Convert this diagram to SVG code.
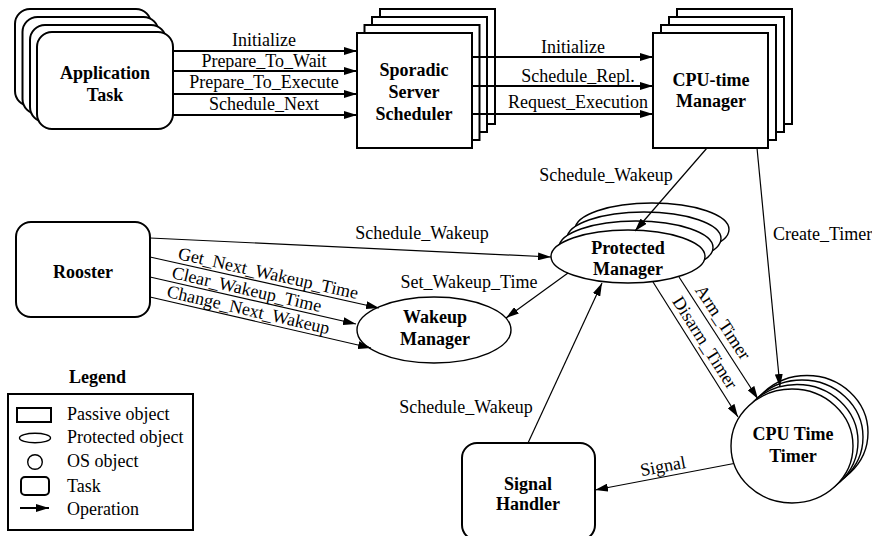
<svg xmlns="http://www.w3.org/2000/svg" width="872" height="536" viewBox="0 0 872 536">
<style>
.box{fill:#fff;stroke:#000;stroke-width:2}
.ell{fill:#fff;stroke:#000;stroke-width:1.4}
.t{font-family:'Liberation Serif','Times New Roman',serif;font-size:18px;fill:#000}
.n{font-weight:bold;text-anchor:middle}
.m{text-anchor:middle}
.c2{fill:none;stroke:#000;stroke-width:2;marker-end:url(#ah)}
.c1{fill:none;stroke:#000;stroke-width:1.2;marker-end:url(#ah)}
</style>
<defs>
<marker id="ah" viewBox="0 0 13 8" refX="13" refY="4" markerWidth="13" markerHeight="8" markerUnits="userSpaceOnUse" orient="auto">
<path d="M0,0 L13,4 L0,8 z" fill="#000"/>
</marker>
</defs>
<rect width="872" height="536" fill="#fff"/>

<g id="application-task">
<rect class="box" x="15" y="9" width="136" height="97" rx="15"/>
<rect class="box" x="22.5" y="17" width="136" height="97" rx="15"/>
<rect class="box" x="30" y="25" width="136" height="97" rx="15"/>
<rect class="box" x="37" y="32" width="136" height="97" rx="15"/>
<text class="t n" x="105" y="79">Application</text>
<text class="t n" x="105" y="101">Task</text>
</g>

<g id="sporadic-server-scheduler">
<rect class="box" x="380" y="9" width="115" height="115"/>
<rect class="box" x="372" y="17" width="115" height="115"/>
<rect class="box" x="364.5" y="25" width="115" height="115"/>
<rect class="box" x="357" y="33" width="115" height="115"/>
<text class="t n" x="414" y="76">Sporadic</text>
<text class="t n" x="414" y="98">Server</text>
<text class="t n" x="414" y="120">Scheduler</text>
</g>

<g id="cpu-time-manager">
<rect class="box" x="677" y="9" width="115" height="115"/>
<rect class="box" x="669" y="17" width="115" height="115"/>
<rect class="box" x="661" y="25" width="115" height="115"/>
<rect class="box" x="653" y="33" width="115" height="115"/>
<text class="t n" x="711" y="86">CPU-time</text>
<text class="t n" x="711" y="107">Manager</text>
</g>

<g id="protected-manager">
<ellipse class="ell" cx="652" cy="229.5" rx="77" ry="26.5"/>
<ellipse class="ell" cx="644" cy="238.5" rx="77" ry="26.5"/>
<ellipse class="ell" cx="636" cy="247.5" rx="77" ry="26.5"/>
<ellipse class="ell" cx="628" cy="256.5" rx="77" ry="26.5"/>
<text class="t n" x="628" y="254">Protected</text>
<text class="t n" x="628" y="275">Manager</text>
</g>

<g id="rooster">
<rect class="box" x="16" y="222" width="134" height="95" rx="15"/>
<text class="t n" x="83" y="278">Rooster</text>
</g>

<g id="wakeup-manager">
<ellipse class="ell" cx="434" cy="330" rx="77" ry="33"/>
<text class="t n" x="435" y="323">Wakeup</text>
<text class="t n" x="435" y="345">Manager</text>
</g>

<g id="cpu-time-timer">
<ellipse class="ell" cx="807" cy="432.5" rx="61" ry="57"/>
<ellipse class="ell" cx="802" cy="437" rx="61" ry="57"/>
<ellipse class="ell" cx="797" cy="441.5" rx="61" ry="57"/>
<ellipse class="ell" cx="792" cy="446" rx="61" ry="57"/>
<text class="t n" x="793" y="440">CPU Time</text>
<text class="t n" x="793" y="462">Timer</text>
</g>

<g id="signal-handler">
<rect class="box" x="462" y="443" width="133" height="97" rx="15"/>
<text class="t n" x="528" y="490">Signal</text>
<text class="t n" x="528" y="510">Handler</text>
</g>

<g id="connectors">
<path class="c2" d="M173,51 H357"/>
<path class="c2" d="M173,71 H357"/>
<path class="c2" d="M173,94 H357"/>
<path class="c2" d="M173,115 H357"/>
<path class="c2" d="M472,57 H653"/>
<path class="c2" d="M472,86 H653"/>
<path class="c2" d="M472,114 H653"/>
<path class="c1" d="M707,148 L635,231"/>
<path class="c1" d="M757,148 L780,387"/>
<path class="c1" d="M150,238 L551,257"/>
<path class="c1" d="M150,257 L379,308"/>
<path class="c1" d="M150,277 L356,324"/>
<path class="c1" d="M150,297 L371,348"/>
<path class="c1" d="M568,273 L506,318"/>
<path class="c1" d="M528,443 L602,283"/>
<path class="c1" d="M653,282 L738,417"/>
<path class="c1" d="M679,277 L758,399"/>
<path class="c1" d="M734,463.5 L595,490"/>
</g>

<g id="connector-labels">
<text class="t m" x="264" y="46">Initialize</text>
<text class="t m" x="264" y="67">Prepare_To_Wait</text>
<text class="t m" x="264" y="88">Prepare_To_Execute</text>
<text class="t m" x="264" y="110">Schedule_Next</text>
<text class="t m" x="573" y="53">Initialize</text>
<text class="t m" x="578" y="82">Schedule_Repl.</text>
<text class="t m" x="578" y="108">Request_Execution</text>
<text class="t m" x="606" y="181">Schedule_Wakeup</text>
<text class="t" x="773" y="240">Create_Timer</text>
<text class="t m" x="422" y="239">Schedule_Wakeup</text>
<text class="t m" transform="translate(267,279) rotate(12.6)">Get_Next_Wakeup_Time</text>
<text class="t m" transform="translate(245.5,295) rotate(12.9)">Clear_Wakeup_Time</text>
<text class="t m" transform="translate(247,315.5) rotate(13)">Change_Next_Wakeup</text>
<text class="t m" x="469" y="288">Set_Wakeup_Time</text>
<text class="t m" transform="translate(718,325.5) rotate(56.6)">Arm_Timer</text>
<text class="t m" transform="translate(700,345.8) rotate(57.6)">Disarm_Timer</text>
<text class="t m" x="466" y="413">Schedule_Wakeup</text>
<text class="t m" transform="translate(664,472) rotate(-10.8)">Signal</text>
</g>

<g id="legend">
<text class="t n" x="97.5" y="383">Legend</text>
<rect x="8" y="394" width="185" height="136" fill="#fff" stroke="#000" stroke-width="2"/>
<rect x="17" y="408" width="34" height="14" fill="none" stroke="#000" stroke-width="2"/>
<text class="t" x="67" y="420">Passive object</text>
<ellipse cx="35" cy="438" rx="15.5" ry="4.8" fill="none" stroke="#000" stroke-width="1.4"/>
<text class="t" x="67" y="443">Protected object</text>
<circle cx="35" cy="462" r="7.3" fill="none" stroke="#000" stroke-width="1.4"/>
<text class="t" x="67" y="467">OS object</text>
<rect x="21" y="477" width="28" height="18" rx="4" fill="none" stroke="#000" stroke-width="2"/>
<text class="t" x="67" y="492">Task</text>
<path class="c2" d="M20,508 H49"/>
<text class="t" x="67" y="515">Operation</text>
</g>
</svg>
